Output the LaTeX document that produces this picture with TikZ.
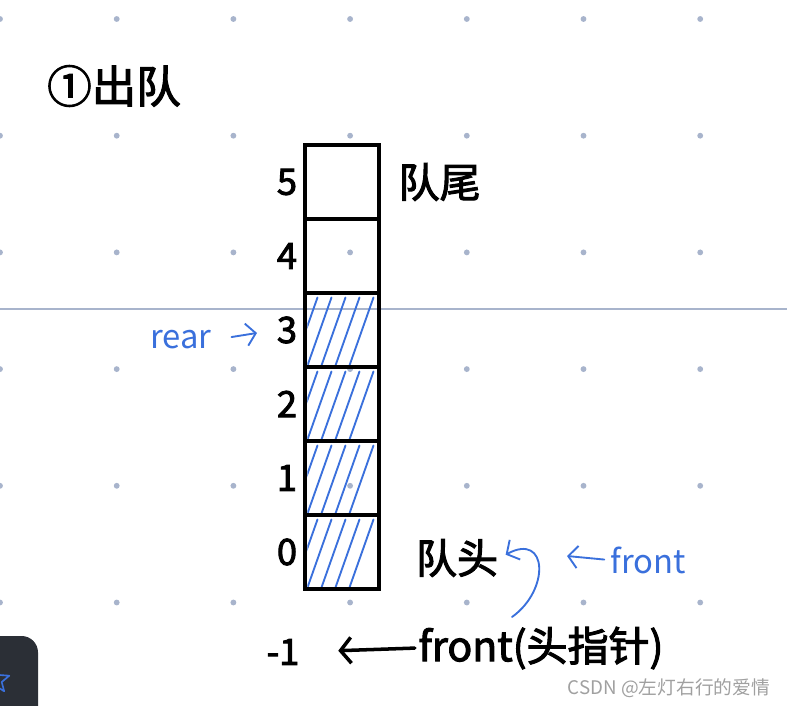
\documentclass[tikz,border=0pt]{standalone}
\usepackage{fontspec}
\usepackage{xcolor}
\usepackage{tikz}
\setmainfont{Noto Sans CJK SC}
\newfontfamily\handfont[FakeBold=2.5]{Noto Sans CJK SC}
\newfontfamily\penfont{Noto Sans CJK SC}
\definecolor{penblue}{RGB}{58, 112, 220}
\definecolor{dotgray}{RGB}{168, 180, 204}
\definecolor{panelgray}{RGB}{43, 47, 54}
\definecolor{markgray}{RGB}{160, 160, 160}
\usetikzlibrary{arrows.meta, positioning, calc}

\begin{document}
\begin{tikzpicture}[
    x=0.03cm, y=-0.03cm,
    node distance=0.15cm,
    cell/.style={rectangle, draw=black, line width=2.6pt, minimum width=2.22cm, minimum height=2.22cm, inner sep=0pt},
    idx/.style={font=\handfont\fontsize{31pt}{33pt}\selectfont, inner sep=1pt},
    tag/.style={font=\handfont\fontsize{35pt}{38pt}\selectfont, inner sep=1pt},
    pen/.style={text=penblue, font=\penfont\fontsize{28pt}{30pt}\selectfont, inner sep=1pt},
    penarrow/.style={draw=penblue, line width=1.6pt, line cap=round, -{Straight Barb[length=8pt, width=19pt]}},
    inkarrow/.style={draw=black, line width=3pt, line cap=round, -{Straight Barb[length=9pt, width=22pt]}},
    hatch/.style={draw=penblue, line width=1.6pt, line cap=round}
]
    \useasboundingbox (0,0) rectangle (787,706);

    % Dotted paper
    \foreach \gx in {0,...,6}
        \foreach \gy in {0,...,5}
            \fill[dotgray] (116.7*\gx, 19+116.7*\gy) circle (2.5pt);
    \draw[dotgray, line width=1.5pt] (0,309) -- (787,309);

    % Queue cells
    \foreach \i in {0,...,5}
        \node[cell] (c\i) at (342, 552-74*\i) {};
    \foreach \i in {0,...,5}
        \node[idx, left=of c\i] (i\i) {\i};
    \node[idx] (im1) at (283,652) {-1};

    % Filled cells
    \foreach \i in {0,...,3} {
        \begin{scope}
            \clip ($(c\i.south west)+(4,-4)$) rectangle ($(c\i.north east)+(-4,4)$);
            \foreach \dx in {-10,4,18,32,46}
                \draw[hatch] ($(c\i.south west)+(\dx,-3)$) -- ++(24,-68);
        \end{scope}
    }

    % Title and labels
    \node[tag, font=\handfont\fontsize{38pt}{40pt}\selectfont] (title) at (114,86) {①出队};
    \node[tag, right=0.5cm of c5] (tail) {队尾};
    \node[tag] (head) at (457,558) {队头};
    \node[tag] (fp) at (541,648) {front(头指针)};
    \node[pen] (rear) at (181,340) {rear};
    \node[pen] (fb) at (648,560) {front};
    \coordinate (fbtip) at (567,556);
    \coordinate (loopstart) at (512,617);

    % Pointers
    \draw[inkarrow, shorten >=32pt, shorten <=2pt] (fp.west) -- (im1.east);
    \draw[penarrow, shorten <=16pt, shorten >=16pt] (rear.east) -- (i3.west);
    \draw[penarrow, shorten <=4pt] (fb.west) -- (fbtip);
    \draw[penarrow, shorten >=6pt] (loopstart) .. controls (550,590) and (548,532) .. (head.east);

    % Corner panel
    \fill[panelgray, rounded corners=14pt] (-40,636) rectangle (38,760);
    \draw[penblue, line width=1.4pt, line join=round] (-4,666) -- (-0.5,675) -- (9.3,675.7) -- (1.7,682) -- (4.2,691.3) -- (-4,686);

    % Watermark
    \node[text=markgray, font=\fontsize{16pt}{18pt}\selectfont] (wm) at (669,688) {CSDN @左灯右行的爱情};
\end{tikzpicture}
\end{document}
